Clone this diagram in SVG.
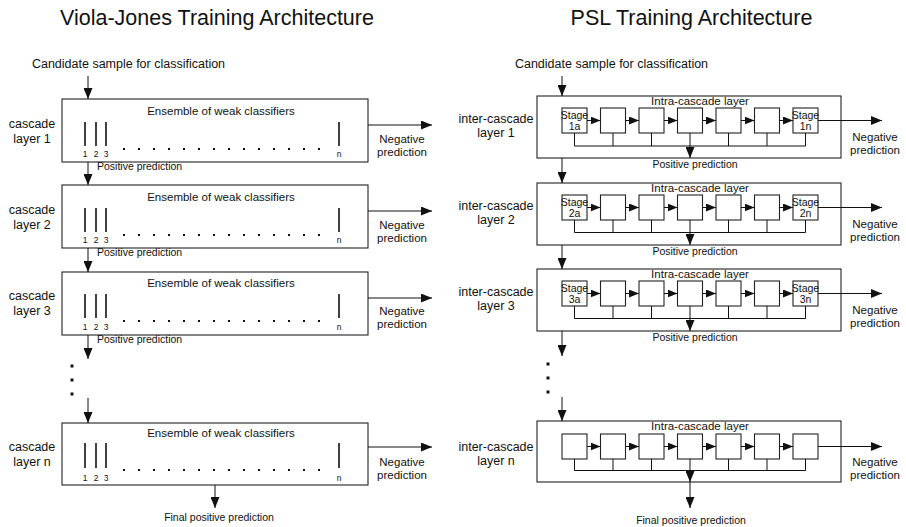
<svg xmlns="http://www.w3.org/2000/svg" width="906" height="527" viewBox="0 0 906 527">
<style>
text{font-family:"Liberation Sans",Arial,sans-serif;fill:#111}
.title{font-size:21.5px;text-anchor:middle}
.cand{font-size:12.5px;text-anchor:middle}
.lab{font-size:12.5px;text-anchor:middle}
.ens{font-size:11.5px;text-anchor:middle}
.neg{font-size:11.5px;text-anchor:middle}
.pos{font-size:10.5px}
.dig{font-size:8.5px;text-anchor:middle}
.stg{font-size:10.5px;text-anchor:middle}
.box{fill:#fff;stroke:#222;stroke-width:1.1}
.ln{stroke:#111;stroke-width:1;fill:none}
.bar{stroke:#111;stroke-width:1.6}
.dots{stroke:#111;stroke-width:2;stroke-dasharray:2 13}
.arr{stroke:#111;stroke-width:1;fill:none;marker-end:url(#ah)}
.sarr{stroke:#111;stroke-width:1;fill:none;marker-end:url(#sh)}
</style>
<defs>
<marker id="ah" markerUnits="userSpaceOnUse" markerWidth="11" markerHeight="9" refX="11" refY="4.5" orient="auto"><path d="M0,0 L11,4.5 L0,9 z" fill="#111"/></marker>
<marker id="sh" markerUnits="userSpaceOnUse" markerWidth="10" markerHeight="8" refX="10" refY="4" orient="auto"><path d="M0,0 L10,4 L0,8 z" fill="#111"/></marker>
</defs>
<rect width="906" height="527" fill="#fff"/>

<text class="title" x="217" y="25">Viola-Jones Training Architecture</text>
<text class="title" x="691.5" y="25">PSL Training Architecture</text>
<text class="cand" x="128.5" y="68">Candidate sample for classification</text>
<text class="cand" x="611.5" y="68">Candidate sample for classification</text>

<!-- Left cascade layers -->
<g id="vj-layer1">
<rect class="box" x="62" y="99" width="306" height="63"/>
<text class="ens" x="221" y="115">Ensemble of weak classifiers</text>
<line class="bar" x1="85" y1="122" x2="85" y2="146"/><line class="bar" x1="96" y1="122" x2="96" y2="146"/><line class="bar" x1="106" y1="122" x2="106" y2="146"/><line class="bar" x1="339" y1="122" x2="339" y2="146"/>
<line class="dots" x1="123" y1="149" x2="333" y2="149"/>
<text class="dig" x="85" y="157">1</text><text class="dig" x="96" y="157">2</text><text class="dig" x="106" y="157">3</text><text class="dig" x="339" y="157">n</text>
<text class="lab" x="32" y="128">cascade</text><text class="lab" x="32" y="143">layer 1</text>
<text class="neg" x="402" y="143">Negative</text><text class="neg" x="402" y="156">prediction</text>
</g>
<g id="vj-layer2">
<rect class="box" x="62" y="185" width="306" height="63"/>
<text class="ens" x="221" y="201">Ensemble of weak classifiers</text>
<line class="bar" x1="85" y1="208" x2="85" y2="232"/><line class="bar" x1="96" y1="208" x2="96" y2="232"/><line class="bar" x1="106" y1="208" x2="106" y2="232"/><line class="bar" x1="339" y1="208" x2="339" y2="232"/>
<line class="dots" x1="123" y1="235" x2="333" y2="235"/>
<text class="dig" x="85" y="243">1</text><text class="dig" x="96" y="243">2</text><text class="dig" x="106" y="243">3</text><text class="dig" x="339" y="243">n</text>
<text class="lab" x="32" y="214">cascade</text><text class="lab" x="32" y="229">layer 2</text>
<text class="neg" x="402" y="229">Negative</text><text class="neg" x="402" y="242">prediction</text>
</g>
<g id="vj-layer3">
<rect class="box" x="62" y="272" width="306" height="63"/>
<text class="ens" x="221" y="287">Ensemble of weak classifiers</text>
<line class="bar" x1="85" y1="294" x2="85" y2="318"/><line class="bar" x1="96" y1="294" x2="96" y2="318"/><line class="bar" x1="106" y1="294" x2="106" y2="318"/><line class="bar" x1="339" y1="294" x2="339" y2="318"/>
<line class="dots" x1="123" y1="321" x2="333" y2="321"/>
<text class="dig" x="85" y="330">1</text><text class="dig" x="96" y="330">2</text><text class="dig" x="106" y="330">3</text><text class="dig" x="339" y="330">n</text>
<text class="lab" x="32" y="300">cascade</text><text class="lab" x="32" y="315">layer 3</text>
<text class="neg" x="402" y="315">Negative</text><text class="neg" x="402" y="328">prediction</text>
</g>
<g id="vj-layern">
<rect class="box" x="62" y="423" width="306" height="62"/>
<text class="ens" x="221" y="437">Ensemble of weak classifiers</text>
<line class="bar" x1="85" y1="443" x2="85" y2="468"/><line class="bar" x1="96" y1="443" x2="96" y2="468"/><line class="bar" x1="106" y1="443" x2="106" y2="468"/><line class="bar" x1="339" y1="443" x2="339" y2="468"/>
<line class="dots" x1="123" y1="470" x2="333" y2="470"/>
<text class="dig" x="85" y="481">1</text><text class="dig" x="96" y="481">2</text><text class="dig" x="106" y="481">3</text><text class="dig" x="339" y="481">n</text>
<text class="lab" x="32" y="451">cascade</text><text class="lab" x="32" y="466">layer n</text>
<text class="neg" x="402" y="466">Negative</text><text class="neg" x="402" y="479">prediction</text>
</g>

<!-- Right cascade layers -->
<g id="psl-layer1">
<rect class="box" x="537" y="96" width="304" height="62"/>
<text class="ens" x="700" y="105">Intra-cascade layer</text>
<rect class="box" x="562" y="108" width="25" height="25"/><rect class="box" x="600.5" y="108" width="25" height="25"/><rect class="box" x="639" y="108" width="25" height="25"/><rect class="box" x="677.5" y="108" width="25" height="25"/><rect class="box" x="716" y="108" width="25" height="25"/><rect class="box" x="754.5" y="108" width="25" height="25"/><rect class="box" x="793" y="108" width="25" height="25"/>
<text class="stg" x="574.5" y="119">Stage</text><text class="stg" x="574.5" y="130">1a</text>
<text class="stg" x="805.5" y="119">Stage</text><text class="stg" x="805.5" y="130">1n</text>
<text class="lab" x="496" y="123">inter-cascade</text><text class="lab" x="496" y="137">layer 1</text>
<text class="neg" x="875" y="141">Negative</text><text class="neg" x="875" y="154">prediction</text>
<text class="pos" x="695" y="168" text-anchor="middle">Positive prediction</text>
</g>
<g id="psl-layer2">
<rect class="box" x="537" y="183" width="304" height="62"/>
<text class="ens" x="700" y="192">Intra-cascade layer</text>
<rect class="box" x="562" y="195" width="25" height="25"/><rect class="box" x="600.5" y="195" width="25" height="25"/><rect class="box" x="639" y="195" width="25" height="25"/><rect class="box" x="677.5" y="195" width="25" height="25"/><rect class="box" x="716" y="195" width="25" height="25"/><rect class="box" x="754.5" y="195" width="25" height="25"/><rect class="box" x="793" y="195" width="25" height="25"/>
<text class="stg" x="574.5" y="206">Stage</text><text class="stg" x="574.5" y="217">2a</text>
<text class="stg" x="805.5" y="206">Stage</text><text class="stg" x="805.5" y="217">2n</text>
<text class="lab" x="496" y="210">inter-cascade</text><text class="lab" x="496" y="224">layer 2</text>
<text class="neg" x="875" y="228">Negative</text><text class="neg" x="875" y="241">prediction</text>
<text class="pos" x="695" y="255" text-anchor="middle">Positive prediction</text>
</g>
<g id="psl-layer3">
<rect class="box" x="537" y="269" width="304" height="62"/>
<text class="ens" x="700" y="278">Intra-cascade layer</text>
<rect class="box" x="562" y="281" width="25" height="25"/><rect class="box" x="600.5" y="281" width="25" height="25"/><rect class="box" x="639" y="281" width="25" height="25"/><rect class="box" x="677.5" y="281" width="25" height="25"/><rect class="box" x="716" y="281" width="25" height="25"/><rect class="box" x="754.5" y="281" width="25" height="25"/><rect class="box" x="793" y="281" width="25" height="25"/>
<text class="stg" x="574.5" y="292">Stage</text><text class="stg" x="574.5" y="303">3a</text>
<text class="stg" x="805.5" y="292">Stage</text><text class="stg" x="805.5" y="303">3n</text>
<text class="lab" x="496" y="296">inter-cascade</text><text class="lab" x="496" y="310">layer 3</text>
<text class="neg" x="875" y="314">Negative</text><text class="neg" x="875" y="327">prediction</text>
<text class="pos" x="695" y="341" text-anchor="middle">Positive prediction</text>
</g>
<g id="psl-layern">
<rect class="box" x="537" y="421" width="304" height="61"/>
<text class="ens" x="700" y="430">Intra-cascade layer</text>
<rect class="box" x="562" y="434" width="25" height="25"/><rect class="box" x="600.5" y="434" width="25" height="25"/><rect class="box" x="639" y="434" width="25" height="25"/><rect class="box" x="677.5" y="434" width="25" height="25"/><rect class="box" x="716" y="434" width="25" height="25"/><rect class="box" x="754.5" y="434" width="25" height="25"/><rect class="box" x="793" y="434" width="25" height="25"/>
<text class="lab" x="496" y="451">inter-cascade</text><text class="lab" x="496" y="465">layer n</text>
<text class="neg" x="875" y="466">Negative</text><text class="neg" x="875" y="479">prediction</text>
</g>

<g id="connectors">
<!-- left vertical flow -->
<line class="arr" x1="88" y1="76" x2="88" y2="99"/>
<line class="arr" x1="88" y1="162" x2="88" y2="185"/>
<line class="arr" x1="88" y1="248" x2="88" y2="272"/>
<line class="arr" x1="88" y1="335" x2="88" y2="359"/>
<rect x="70.5" y="364.5" width="3" height="3" fill="#111"/><rect x="70.5" y="378.5" width="3" height="3" fill="#111"/><rect x="70.5" y="392.5" width="3" height="3" fill="#111"/>
<line class="arr" x1="88" y1="398" x2="88" y2="423"/>
<line class="arr" x1="215" y1="485" x2="215" y2="508"/>
<!-- left negative -->
<line class="arr" x1="368" y1="125" x2="432" y2="125"/>
<line class="arr" x1="368" y1="211" x2="432" y2="211"/>
<line class="arr" x1="368" y1="298" x2="432" y2="298"/>
<line class="arr" x1="368" y1="447" x2="432" y2="447"/>

<!-- right vertical flow -->
<line class="arr" x1="562" y1="76" x2="562" y2="96"/>
<line class="arr" x1="562" y1="158" x2="562" y2="183"/>
<line class="arr" x1="562" y1="245" x2="562" y2="269"/>
<line class="arr" x1="562" y1="331" x2="562" y2="356"/>
<rect x="546.5" y="362.5" width="3" height="3" fill="#111"/><rect x="546.5" y="376.5" width="3" height="3" fill="#111"/><rect x="546.5" y="390.5" width="3" height="3" fill="#111"/>
<line class="arr" x1="562" y1="397" x2="562" y2="421"/>

<!-- stage chains layer 1 -->
<line class="sarr" x1="587" y1="120.5" x2="600.5" y2="120.5"/><line class="sarr" x1="625.5" y1="120.5" x2="639" y2="120.5"/><line class="sarr" x1="664" y1="120.5" x2="677.5" y2="120.5"/><line class="sarr" x1="702.5" y1="120.5" x2="716" y2="120.5"/><line class="sarr" x1="741" y1="120.5" x2="754.5" y2="120.5"/><line class="sarr" x1="779.5" y1="120.5" x2="793" y2="120.5"/>
<path class="ln" d="M574.5,133V146M613,133V146M651.5,133V146M690,133V146M728.5,133V146M767,133V146M805.5,133V146M574.5,146H805.5"/>
<line class="arr" x1="690" y1="146" x2="690" y2="158"/>
<line class="arr" x1="818" y1="120.5" x2="882" y2="120.5"/>
<!-- layer 2 -->
<line class="sarr" x1="587" y1="207.5" x2="600.5" y2="207.5"/><line class="sarr" x1="625.5" y1="207.5" x2="639" y2="207.5"/><line class="sarr" x1="664" y1="207.5" x2="677.5" y2="207.5"/><line class="sarr" x1="702.5" y1="207.5" x2="716" y2="207.5"/><line class="sarr" x1="741" y1="207.5" x2="754.5" y2="207.5"/><line class="sarr" x1="779.5" y1="207.5" x2="793" y2="207.5"/>
<path class="ln" d="M574.5,220V232.5M613,220V232.5M651.5,220V232.5M690,220V232.5M728.5,220V232.5M767,220V232.5M805.5,220V232.5M574.5,232.5H805.5"/>
<line class="arr" x1="690" y1="232.5" x2="690" y2="245"/>
<line class="arr" x1="818" y1="207.5" x2="882" y2="207.5"/>
<!-- layer 3 -->
<line class="sarr" x1="587" y1="293.5" x2="600.5" y2="293.5"/><line class="sarr" x1="625.5" y1="293.5" x2="639" y2="293.5"/><line class="sarr" x1="664" y1="293.5" x2="677.5" y2="293.5"/><line class="sarr" x1="702.5" y1="293.5" x2="716" y2="293.5"/><line class="sarr" x1="741" y1="293.5" x2="754.5" y2="293.5"/><line class="sarr" x1="779.5" y1="293.5" x2="793" y2="293.5"/>
<path class="ln" d="M574.5,306V318.5M613,306V318.5M651.5,306V318.5M690,306V318.5M728.5,306V318.5M767,306V318.5M805.5,306V318.5M574.5,318.5H805.5"/>
<line class="arr" x1="690" y1="318.5" x2="690" y2="331"/>
<line class="arr" x1="818" y1="293.5" x2="882" y2="293.5"/>
<!-- layer n -->
<line class="sarr" x1="587" y1="446.5" x2="600.5" y2="446.5"/><line class="sarr" x1="625.5" y1="446.5" x2="639" y2="446.5"/><line class="sarr" x1="664" y1="446.5" x2="677.5" y2="446.5"/><line class="sarr" x1="702.5" y1="446.5" x2="716" y2="446.5"/><line class="sarr" x1="741" y1="446.5" x2="754.5" y2="446.5"/><line class="sarr" x1="779.5" y1="446.5" x2="793" y2="446.5"/>
<path class="ln" d="M574.5,459V470.5M613,459V470.5M651.5,459V470.5M690,459V470.5M728.5,459V470.5M767,459V470.5M805.5,459V470.5M574.5,470.5H805.5"/>
<line class="arr" x1="690" y1="470.5" x2="690" y2="482"/>
<line class="arr" x1="690" y1="482" x2="690" y2="508"/>
<line class="arr" x1="818" y1="446.5" x2="882" y2="446.5"/>
</g>

<text class="pos" x="97" y="170">Positive prediction</text>
<text class="pos" x="97" y="256">Positive prediction</text>
<text class="pos" x="97" y="343">Positive prediction</text>
<text class="pos" x="219" y="521" text-anchor="middle">Final positive prediction</text>
<text class="pos" x="691" y="524" text-anchor="middle">Final positive prediction</text>
</svg>
